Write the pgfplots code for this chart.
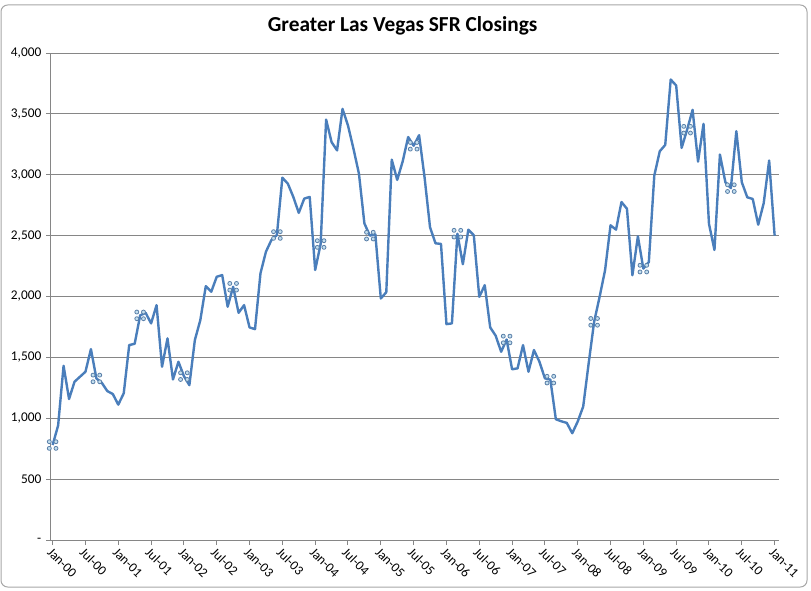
\documentclass[border=0pt]{standalone}
\usepackage{fontspec}
\setmainfont{Carlito}
\usepackage{pgfplots}
\pgfplotsset{compat=1.18}

\definecolor{lineblue}{HTML}{4A7EBB}
\definecolor{gridgrey}{HTML}{868686}
\definecolor{framegrey}{HTML}{A6A6A6}
\definecolor{markfill}{HTML}{C3DFEF}
\definecolor{markdraw}{HTML}{5A7FA8}

% Excel selection-handle look: four small circles
\pgfdeclareplotmark{quad}{%
  \pgfpathcircle{\pgfpoint{-2.5pt}{2.5pt}}{1.5pt}%
  \pgfpathcircle{\pgfpoint{2.5pt}{2.5pt}}{1.5pt}%
  \pgfpathcircle{\pgfpoint{-2.5pt}{-2.5pt}}{1.5pt}%
  \pgfpathcircle{\pgfpoint{2.5pt}{-2.5pt}}{1.5pt}%
  \pgfusepathqfillstroke}

\begin{document}
\begin{tikzpicture}
\path[use as bounding box] (0,0) rectangle (608.25pt,442.5pt);
\draw[framegrey, rounded corners=5pt, line width=0.75pt] (0.75pt,2.25pt) rectangle (605.25pt,438.75pt);
\node[font=\fontsize{16}{18}\selectfont\bfseries] at (302pt,423pt) {Greater Las Vegas SFR Closings};
\begin{axis}[
    at={(38.25pt,37.5pt)}, anchor=south west,
    scale only axis, width=546pt, height=365.25pt,
    xmin=-0.3, xmax=132.8, ymin=0, ymax=4000,
    axis x line*=bottom, axis y line*=left,
    axis line style={gridgrey, line width=0.75pt, -},
    ymajorgrids, grid style={gridgrey, line width=0.75pt},
    ytick={0,500,...,4000},
    yticklabels={-,500,{1,000},{1,500},{2,000},{2,500},{3,000},{3,500},{4,000}},
    xtick={0,6,...,132},
    xticklabels={Jan-00,Jul-00,Jan-01,Jul-01,Jan-02,Jul-02,Jan-03,Jul-03,Jan-04,Jul-04,Jan-05,Jul-05,Jan-06,Jul-06,Jan-07,Jul-07,Jan-08,Jul-08,Jan-09,Jul-09,Jan-10,Jul-10,Jan-11},
    tick align=outside, major tick length=3.75pt,
    tick style={gridgrey, line width=0.75pt},
    tick label style={font=\fontsize{10}{12}\selectfont, black},
    xticklabel style={rotate=-45, anchor=north west, inner sep=1pt},
    /pgf/number format/assume math mode=true,
  ]
  \addplot[lineblue, line width=1.8pt, line join=round,
    mark=quad, mark options={fill=markfill, draw=markdraw, line width=0.6pt},
    mark indices={1,9,17,25,34,42,50,59,67,75,84,92,100,109,117,125}]
  coordinates {
    (0,780) (1,940) (2,1431) (3,1158) (4,1300) (5,1341) (6,1382) (7,1568)
    (8,1327) (9,1290) (10,1223) (11,1199) (12,1112) (13,1205) (14,1601) (15,1612)
    (16,1845) (17,1866) (18,1779) (19,1929) (20,1423) (21,1656) (22,1319) (23,1464)
    (24,1346) (25,1272) (26,1642) (27,1806) (28,2085) (29,2039) (30,2162) (31,2176)
    (32,1916) (33,2080) (34,1866) (35,1929) (36,1746) (37,1732) (38,2191) (39,2368)
    (40,2464) (41,2505) (42,2976) (43,2927) (44,2818) (45,2687) (46,2804) (47,2818)
    (48,2218) (49,2431) (50,3453) (51,3268) (52,3200) (53,3541) (54,3404) (55,3214)
    (56,3009) (57,2600) (58,2500) (59,2510) (60,1984) (61,2035) (62,3124) (63,2958)
    (64,3110) (65,3310) (66,3238) (67,3325) (68,2978) (69,2568) (70,2437) (71,2432)
    (72,1773) (73,1779) (74,2516) (75,2265) (76,2549) (77,2503) (78,1997) (79,2093)
    (80,1746) (81,1678) (82,1546) (83,1647) (84,1402) (85,1410) (86,1601) (87,1382)
    (88,1560) (89,1464) (90,1328) (91,1317) (92,992) (93,975) (94,962) (95,877)
    (96,973) (97,1096) (98,1451) (99,1792) (100,1997) (101,2216) (102,2585) (103,2549)
    (104,2776) (105,2721) (106,2175) (107,2494) (108,2229) (109,2283) (110,2993) (111,3193)
    (112,3245) (113,3782) (114,3733) (115,3221) (116,3370) (117,3533) (118,3108) (119,3418)
    (120,2596) (121,2382) (122,3166) (123,2938) (124,2890) (125,3358) (126,2938) (127,2815)
    (128,2801) (129,2590) (130,2766) (131,3117) (132,2500)
  };
\end{axis}
\end{tikzpicture}
\end{document}
